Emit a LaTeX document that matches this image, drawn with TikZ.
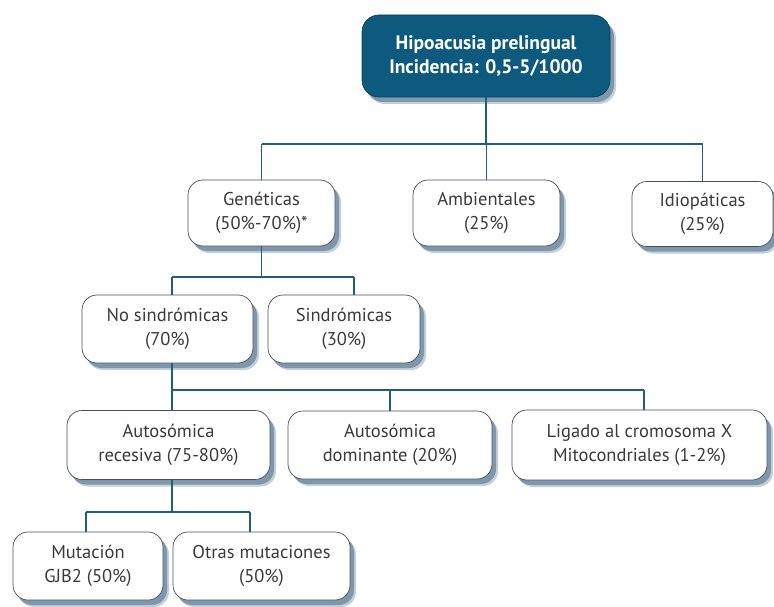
\documentclass[tikz,border=0pt]{standalone}
\usepackage{fontspec}
\setmainfont{PT Sans}
\usetikzlibrary{shadows}
\definecolor{boxline}{HTML}{4A4E52}
\definecolor{txt}{HTML}{3A3A3A}
\definecolor{linkc}{HTML}{1F5E74}
\definecolor{shadowc}{HTML}{7F97AC}
\definecolor{shadowsoft}{HTML}{C3CFD9}
\definecolor{topfill}{HTML}{0E5A7F}
\definecolor{topline}{HTML}{0A3E58}
\begin{document}
\begin{tikzpicture}[x=1pt,y=-1pt,
  softshadow/.style={
    general shadow={fill=shadowsoft, shadow xshift=6pt, shadow yshift=-7pt, draw=none},
    general shadow={fill=shadowc, shadow xshift=4pt, shadow yshift=-5pt, draw=none}},
  box/.style={draw=boxline, line width=0.7pt, fill=white, rounded corners=15pt,
    align=center, text=txt, font=\fontsize{18.5}{23.5}\selectfont, inner sep=0pt,
    softshadow},
  topbox/.style={box, fill=topfill, draw=topline, text=white,
    font=\bfseries\fontsize{19.5}{23.5}\selectfont, rounded corners=17pt},
  link/.style={draw=linkc, line width=1.6pt}]
\useasboundingbox (0,0) rectangle (774,607);

% boxes
\node[topbox, minimum width=248pt, minimum height=82pt] (top) at (486,56)
  {Hipoacusia prelingual\\Incidencia: 0,5-5/1000};

\node[box, minimum width=147pt, minimum height=66pt] (gen) at (261.5,213) {Genéticas\\(50\%-70\%)*};
\node[box, minimum width=147pt, minimum height=66pt] (amb) at (486.5,213) {Ambientales\\(25\%)};
\node[box, minimum width=141pt, minimum height=65pt] (idio) at (702.5,214) {Idiopáticas\\(25\%)};

\node[box, minimum width=171pt, minimum height=68pt] (nosin) at (167.5,329) {No sindrómicas\\(70\%)};
\node[box, minimum width=152pt, minimum height=68pt] (sin) at (344,329) {Sindrómicas\\(30\%)};

\node[box, minimum width=203pt, minimum height=69pt] (rec) at (168.5,445) {Autosómica\\recesiva (75-80\%)};
\node[box, minimum width=204pt, minimum height=68pt] (dom) at (390,445) {Autosómica\\dominante (20\%)};
\node[box, minimum width=255pt, minimum height=70pt] (lig) at (639.5,445) {Ligado al cromosoma X\\Mitocondriales (1-2\%)};

\node[box, minimum width=150pt, minimum height=68pt] (mut) at (88,566) {Mutación\\GJB2 (50\%)};
\node[box, minimum width=177pt, minimum height=68pt] (otr) at (261.5,566) {Otras mutaciones\\(50\%)};

% bus lines
\coordinate (b1) at (0,144);
\coordinate (b2) at (0,277);
\coordinate (b3) at (0,390);
\coordinate (b4) at (0,512);

% level 1 -> 2
\draw[link] (top.south) -- (top.south |- b1);
\draw[link] (gen.north |- b1) -- (idio.north |- b1);
\draw[link] (gen.north |- b1) -- (gen.north);
\draw[link] (amb.north |- b1) -- (amb.north);
\draw[link] (idio.north |- b1) -- (idio.north);

% Genéticas -> sindrómicas / no sindrómicas
\coordinate (xn) at (172,0);
\coordinate (xs) at (354,0);
\draw[link] (gen.south) -- (gen.south |- b2);
\draw[link] (xn |- b2) -- (xs |- b2);
\draw[link] (xn |- b2) -- (xn |- nosin.north);
\draw[link] (xs |- b2) -- (xs |- sin.north);

% No sindrómicas -> inheritance modes
\coordinate (xl) at (644,0);
\draw[link] (xn |- nosin.south) -- (xn |- b3);
\draw[link] (xn |- b3) -- (xl |- b3);
\draw[link] (xn |- b3) -- (xn |- rec.north);
\draw[link] (dom.north |- b3) -- (dom.north);
\draw[link] (xl |- b3) -- (xl |- lig.north);

% Autosómica recesiva -> mutations
\coordinate (xm) at (86,0);
\coordinate (xo) at (250,0);
\draw[link] (xn |- rec.south) -- (xn |- b4);
\draw[link] (xm |- b4) -- (xo |- b4);
\draw[link] (xm |- b4) -- (xm |- mut.north);
\draw[link] (xo |- b4) -- (xo |- otr.north);
\end{tikzpicture}
\end{document}
